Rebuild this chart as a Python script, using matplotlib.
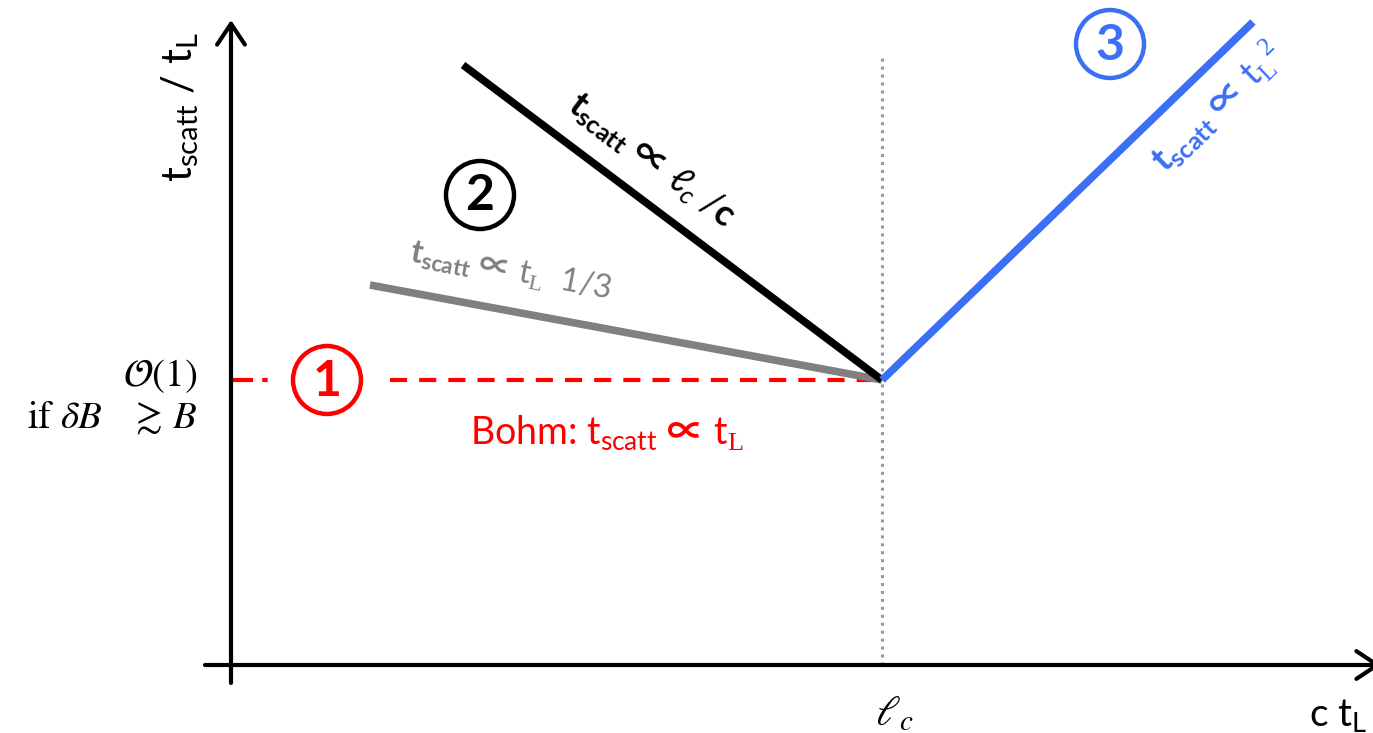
import numpy as np
import matplotlib.pyplot as plt
from matplotlib.patches import Circle

plt.rcParams['font.family'] = ['Lato', 'DejaVu Sans']
plt.rcParams['mathtext.fontset'] = 'custom'
plt.rcParams['mathtext.rm'] = 'Lato'
plt.rcParams['mathtext.it'] = 'Lato:italic'
plt.rcParams['mathtext.bf'] = 'Lato:bold'
plt.rcParams['mathtext.sf'] = 'Noto Sans CJK JP:bold'
plt.rcParams['mathtext.tt'] = 'Liberation Serif'

# schematic regimes, x = c t_L, y = t_scatt / t_L (arbitrary units)
l_c = 651
bohm = 285
bohm_left = [0, 37]
bohm_right = [159, l_c]
gray_x = [139, l_c]
gray_y = [380, bohm]
black_x = [232, l_c]
black_y = [600, bohm]
blue_x = [l_c, 1022]
blue_y = [bohm, 643]

regime_labels = ['1', '2', '3']
regime_x = [96, 249, 879]
regime_y = [285, 470, 621]

red = '#ff0000'
gray = '#808080'
blue = '#3b6ff5'
regime_colors = [red, 'black', blue]

fig = plt.figure(figsize=(13.73, 7.33), dpi=100)
ax = fig.add_axes([0, 0, 1, 1])
ax.set_xlim(-231, 1142)
ax.set_ylim(-68, 665)
ax.set_aspect('equal')
ax.axis('off')

# axes with open arrow heads
arrow = dict(arrowstyle='->,head_length=0.6,head_width=0.4', lw=3, color='black',
             mutation_scale=25, shrinkA=0, shrinkB=0)
ax.annotate('', xy=(0, 645), xytext=(0, -18), arrowprops=arrow, annotation_clip=False)
ax.annotate('', xy=(1150, 0), xytext=(-26, 0), arrowprops=arrow, annotation_clip=False)

# ell_c marker
ax.plot([l_c, l_c], [0, 607], color='#999999', lw=2.2, ls=(0, (1, 1.6)), zorder=1)

# Bohm level
ax.plot(bohm_left, [bohm, bohm], color=red, lw=3, dashes=(5.3, 2.2, 1.3, 2.2), zorder=2)
ax.plot(bohm_right, [bohm, bohm], color=red, lw=3, dashes=(4.1, 2.9), zorder=2)

ax.plot(gray_x, gray_y, color=gray, lw=5.5, solid_capstyle='butt', zorder=3)
ax.plot(black_x, black_y, color='black', lw=5.5, solid_capstyle='butt', zorder=4)
ax.plot(blue_x, blue_y, color=blue, lw=5.5, solid_capstyle='butt', zorder=4)

# circled regime numbers
for lab, x, y, c in zip(regime_labels, regime_x, regime_y, regime_colors):
    ax.add_patch(Circle((x, y), 34, facecolor='white', edgecolor=c, lw=3.2, zorder=5))
    ax.text(x, y - 1, lab, color=c, fontsize=36, fontweight='bold',
            ha='center', va='center', zorder=6)

# axis labels
ax.text(-51, 558, r'$\mathrm{t}_{\mathrm{scatt}}$ / $\mathrm{t}_{\mathrm{L}}$', fontsize=30,
        rotation=90, ha='center', va='center')
ax.text(1107, -50, r'c $\mathrm{t}_{\mathrm{L}}$', fontsize=28, ha='center', va='center')
ax.text(l_c + 12, -49, r'$\ell_c$', fontsize=30, ha='center', va='center',
        math_fontfamily='stix')
ax.text(-34, bohm + 4, r'$\mathcal{O}(1)$', fontsize=28, ha='right', va='center',
        math_fontfamily='stix')
ax.text(-34, bohm - 38, r'$\mathrm{if}\ \delta B\ \ \ \gtrsim\, B$', fontsize=28,
        ha='right', va='center', math_fontfamily='stix')

# scaling annotations
ax.text(376, 233,
        r'Bohm: $\mathrm{t}_{\mathrm{scatt}}$ $\mathsf{∝}$ $\mathrm{t}_{\mathtt{L}}$',
        color=red, fontsize=27, ha='center', va='center')
ax.text(280, 393,
        r'$\mathbf{t}_{\mathbf{scatt}}$ $\mathsf{∝}$ $\mathrm{t}_{\mathtt{L}}$  $\mathit{1/3}$',
        color=gray, fontsize=23, ha='center', va='center', rotation=-10.6,
        rotation_mode='anchor')
ax.text(421, 505,
        r'$\mathbf{t}_{\mathbf{scatt}}$ $\mathsf{∝}$ $\ell_c$ /$\mathbf{c}$',
        color='black', fontsize=26, ha='center', va='center', rotation=-37,
        rotation_mode='anchor')
ax.text(986, 558,
        r'$\mathbf{t}_{\mathbf{scatt}}$ $\mathsf{∝}$ $\mathrm{t}_{\mathtt{L}}$$^{\mathtt{2}}$',
        color=blue, fontsize=26, ha='center', va='center', rotation=44,
        rotation_mode='anchor')

fig.savefig('out.png', dpi=100)
